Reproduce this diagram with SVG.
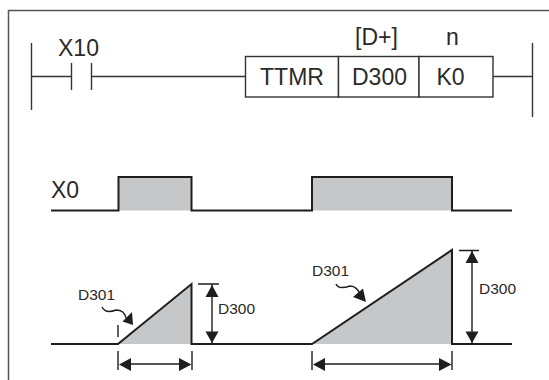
<svg xmlns="http://www.w3.org/2000/svg" width="549" height="380" viewBox="0 0 549 380">
<style>
.l{fill:none;stroke:#333;stroke-width:1.4}
.w{fill:none;stroke:#1e1e1e;stroke-width:2}
.d{fill:none;stroke:#1e1e1e;stroke-width:1.4}
.s{fill:#c6c7c9;stroke:none}
.a{fill:#1e1e1e;stroke:none}
text{font-family:"Liberation Sans",Arial,sans-serif;fill:#2a2a2a}
.b{font-size:23px}
.m{font-size:15.5px}
</style>
<rect width="549" height="380" fill="#fff"/>
<path id="frame" d="M8.500 380V10.500H549" fill="none" stroke="#555" stroke-width="1.5"/>
<g id="connectors">
<path class="l" d="M31.500 43V110M31.500 76.500H71.500M71.500 63V90M91.500 63V90M91.500 76.500H245.500M493 76.500H532.500M532.500 43V117"/>
</g>
<g id="x10"><text class="b" x="58" y="56">X10</text></g>
<g id="ttmr">
<rect x="245.500" y="56.500" width="93" height="40.500" fill="#fff" stroke="#333" stroke-width="1.4"/>
<text class="b" x="292" y="85" text-anchor="middle">TTMR</text>
</g>
<g id="d300">
<rect x="338.500" y="56.500" width="80.500" height="40.500" fill="#fff" stroke="#333" stroke-width="1.4"/>
<text class="b" x="379.500" y="85" text-anchor="middle">D300</text>
<text class="b" x="376.500" y="45" text-anchor="middle">[D+]</text>
</g>
<g id="k0">
<rect x="419" y="56.500" width="74" height="40.500" fill="#fff" stroke="#333" stroke-width="1.4"/>
<text class="b" x="450.500" y="85" text-anchor="middle">K0</text>
<text class="b" x="452.500" y="45" text-anchor="middle">n</text>
</g>
<g id="x0-wave">
<text class="b" x="51" y="198">X0</text>
<rect class="s" x="118" y="177" width="73.500" height="33.500"/>
<rect class="s" x="312" y="177" width="140" height="33.500"/>
<path class="w" d="M51 210.500H118.500V177H191.500V210.500H312V177H452V210.500H512"/>
</g>
<g id="ramp-wave">
<path class="s" d="M118 344L191.500 284V344Z"/>
<path class="s" d="M312 344L452 250V344Z"/>
<path class="w" d="M51 344H118L191.500 284V344H312L452 250V344H512"/>
</g>
<g id="dim-1">
<path class="d" d="M198 284H219M212 284V344M118 351V370M192 351V370M122 364H188"/>
<path class="a" d="M212 285L218.500 297H205.500ZM212 343L205.500 331.500H218.500ZM119 364.500L131 358V371ZM191.500 364.500L179 358V371Z"/>
<text class="m" x="218" y="314">D300</text>
<text class="m" x="78" y="300">D301</text>
<path class="d" d="M118 325V337"/>
<path class="d" d="M102 307C105 313 111 312 116 310C121 310 125 313 126 318"/>
<path class="a" d="M133 325L132 312L122.500 321.500Z"/>
</g>
<g id="dim-2">
<path class="d" d="M459 250.500H479M472 250.500V344M312 351V370M452 351V370M316 364H448"/>
<path class="a" d="M472 251L478.500 263H465.500ZM472 343L465.500 331.500H478.500ZM313 364.500L325 358V371ZM451.500 364.500L439 358V371Z"/>
<text class="m" x="479" y="294">D300</text>
<text class="m" x="312" y="276">D301</text>
<path class="d" d="M336 284C338 289 344 288 350 286C355 286 359 290 360 295"/>
<path class="a" d="M366 302L363 288.500L353 297Z"/>
</g>
</svg>
